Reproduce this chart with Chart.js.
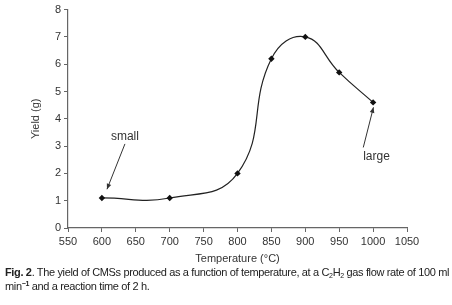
<!DOCTYPE html>
<html><head><meta charset="utf-8">
<script src="https://cdn.jsdelivr.net/npm/chart.js@4"></script>
<style>
html,body{margin:0;padding:0;background:#fff;width:452px;height:305px;overflow:hidden;}
#wrap{position:absolute;left:0;top:0;width:452px;height:266px;}
.cap{position:absolute;left:5px;top:265px;font-family:"Liberation Sans",Arial,sans-serif;font-size:11px;line-height:14px;color:#222;white-space:nowrap;letter-spacing:-0.35px;}
.cap sub{font-size:7px;vertical-align:-2px;line-height:0;}
.cap sup{font-size:7px;vertical-align:4px;line-height:0;font-weight:bold;}
</style></head><body>
<div id="wrap"><canvas id="c" width="452" height="266"></canvas></div>
<div class="cap"><b>Fig. 2</b>. The yield of CMSs produced as a function of temperature, at a C<sub>2</sub>H<sub>2</sub> gas flow rate of 100 ml<br>min<sup>−1</sup> and a reaction time of 2 h.</div>
<script>
const temperatures = [600, 700, 800, 850, 900, 950, 1000];
const yields = [1.1, 1.1, 2.0, 6.2, 7.0, 5.7, 4.6];
const xTickLabels = [550, 600, 650, 700, 750, 800, 850, 900, 950, 1000, 1050];
const yTickLabels = [0, 1, 2, 3, 4, 5, 6, 7, 8];
const annotationLabels = ["small", "large"];

const font = {family: '"Liberation Sans", Arial, sans-serif', size: 11};
const textColor = '#333';

const annot = {
  id: 'annot',
  afterDatasetsDraw(chart) {
    const {ctx, scales: {x, y}} = chart;
    const items = [
      {text: annotationLabels[0], tx: 634, ty: 3.35, from: [634, 3.08], to: [607.5, 1.42]},
      {text: annotationLabels[1], tx: 1005, ty: 2.62, from: [985.5, 2.95], to: [1000.5, 4.42]}
    ];
    ctx.save();
    ctx.font = '12px "Liberation Sans", Arial, sans-serif';
    ctx.fillStyle = '#333';
    ctx.strokeStyle = '#333';
    ctx.lineWidth = 1;
    ctx.textAlign = 'center';
    ctx.textBaseline = 'middle';
    for (const it of items) {
      ctx.fillText(it.text, x.getPixelForValue(it.tx), y.getPixelForValue(it.ty));
      const x1 = x.getPixelForValue(it.from[0]), y1 = y.getPixelForValue(it.from[1]);
      const x2 = x.getPixelForValue(it.to[0]), y2 = y.getPixelForValue(it.to[1]);
      ctx.beginPath(); ctx.moveTo(x1, y1); ctx.lineTo(x2, y2); ctx.stroke();
      const a = Math.atan2(y2 - y1, x2 - x1), L = 6, w = 0.4;
      ctx.beginPath();
      ctx.moveTo(x2, y2);
      ctx.lineTo(x2 - L * Math.cos(a - w), y2 - L * Math.sin(a - w));
      ctx.lineTo(x2 - L * Math.cos(a + w), y2 - L * Math.sin(a + w));
      ctx.closePath(); ctx.fill();
    }
    ctx.restore();
  }
};

new Chart(document.getElementById('c'), {
  type: 'line',
  data: {
    datasets: [{
      data: temperatures.map((t, i) => ({x: t, y: yields[i]})),
      borderColor: '#222',
      borderWidth: 1.2,
      backgroundColor: '#111',
      pointStyle: 'rectRot',
      pointRadius: 3.2,
      pointBorderWidth: 0,
      tension: 0.45,
      fill: false
    }]
  },
  options: {
    responsive: false,
    animation: false,
    devicePixelRatio: 1,
    layout: {padding: {left: 0, right: 45, top: 8, bottom: 0}},
    plugins: {legend: {display: false}, tooltip: {enabled: false}},
    scales: {
      x: {
        type: 'linear', min: 550, max: 1050,
        afterBuildTicks: s => { s.ticks = xTickLabels.map(v => ({value: v})); },
        afterFit: s => { s.height = 38; },
        grid: {display: true, drawOnChartArea: false, drawTicks: true, tickLength: 4, color: '#666'},
        border: {color: '#666', width: 1.2},
        ticks: {font, color: textColor, padding: 3, maxRotation: 0, autoSkip: false, callback: v => String(v)},
        title: {display: true, text: 'Temperature (°C)', font, color: textColor, padding: {top: 2, bottom: 0}}
      },
      y: {
        type: 'linear', min: 0, max: 8,
        afterBuildTicks: s => { s.ticks = yTickLabels.map(v => ({value: v})); },
        afterFit: s => { s.width = 68; },
        grid: {display: true, drawOnChartArea: false, drawTicks: true, tickLength: 4, color: '#666'},
        border: {color: '#666', width: 1.2},
        ticks: {font, color: textColor, padding: 3, callback: v => String(v)},
        title: {display: true, text: 'Yield (g)', font, color: textColor, padding: {top: 29, bottom: 0}}
      }
    }
  },
  plugins: [annot]
});
</script>
</body></html>
